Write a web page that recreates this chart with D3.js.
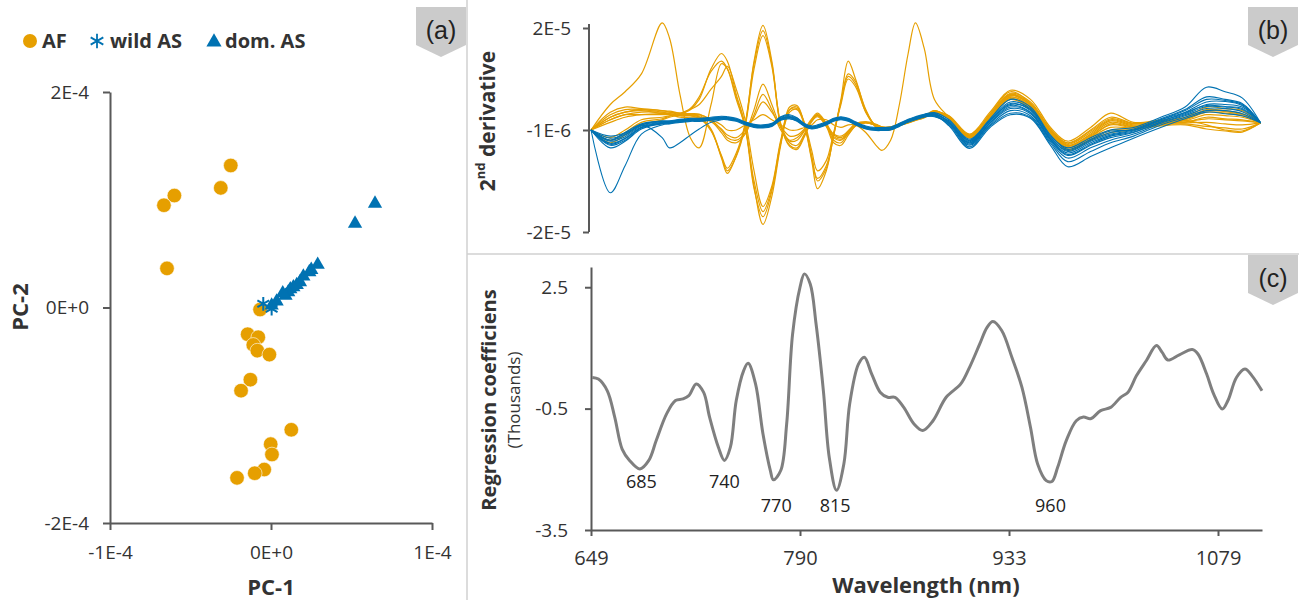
<!DOCTYPE html>
<html><head><meta charset="utf-8">
<script src="https://cdn.jsdelivr.net/npm/d3@7"></script>
<style>
body{margin:0;background:#fff;}
svg{display:block;font-family:"Open Sans",sans-serif;}
</style></head><body>
<svg id="chart" width="1299" height="600"></svg>
<script>
// ---------------- DATA ----------------
// Panel (a): PCA scores
const afPC1   = [-0.250e-4,-0.312e-4,-0.600e-4,-0.665e-4,-0.646e-4,-0.068e-4,-0.145e-4,-0.079e-4,-0.110e-4,-0.085e-4,-0.010e-4,-0.128e-4,-0.186e-4,0.126e-4,-0.002e-4,0.006e-4,-0.042e-4,-0.101e-4,-0.211e-4];
const afPC2   = [1.318e-4,1.110e-4,1.039e-4,0.949e-4,0.363e-4,-0.019e-4,-0.248e-4,-0.276e-4,-0.347e-4,-0.400e-4,-0.437e-4,-0.670e-4,-0.772e-4,-1.135e-4,-1.268e-4,-1.364e-4,-1.504e-4,-1.538e-4,-1.581e-4];
const wildPC1 = [-0.048e-4,0.004e-4];
const wildPC2 = [0.034e-4,-0.012e-4];
const domPC1  = [0.646e-4,0.522e-4,0.290e-4,0.250e-4,0.238e-4,0.201e-4,0.180e-4,0.160e-4,0.139e-4,0.120e-4,0.107e-4,0.090e-4,0.073e-4,0.035e-4,0.004e-4];
const domPC2  = [0.965e-4,0.779e-4,0.397e-4,0.350e-4,0.329e-4,0.288e-4,0.236e-4,0.210e-4,0.189e-4,0.170e-4,0.142e-4,0.110e-4,0.133e-4,0.056e-4,0.019e-4];
const legendLabels = ["AF","wild AS","dom. AS"];
const aXTicks = [-1e-4,0,1e-4], aXTickLabels = ["-1E-4","0E+0","1E-4"];
const aYTicks = [-2e-4,0,2e-4], aYTickLabels = ["-2E-4","0E+0","2E-4"];

// Panel (b): 2nd derivative spectra (values in units of 1E-6) on a wavelength grid (nm)
const derivWl = [649,662,672,683,697,702,709,716,722,730,737,741,747,753,759,765,771,777,783,788,793,798,802,808,813,818,823,828,835,842,846,852,858,864,869,875,882,892,906,920,934,948,962,974,990,1004,1020,1039,1056,1071,1084,1096,1109];
const afSpectra = [
 [-1,1,2,2.5,2.5,2.5,2,2,1.5,-1,-6.5,-9.5,-6,0,12.5,19.5,12.5,0,-4,-4.5,-2,1,2,0,-2,-2.5,-1.5,0,0.5,0,-0.5,-0.5,0,0.5,1,1.5,2.5, 1.8,-1.8,2.5,6.8,5.0,-0.5,-3.2,-0.5,2.3,0.5,1.0,1.5,3.5,3.2,2.8,0.4],
 [-1,0.5,1.5,2,2.2,2.2,1.8,1.8,1.3,-1.2,-6,-8.5,-5.5,0.3,12,18.5,12,0.3,-3.5,-4,-1.8,0.8,1.8,0.2,-1.8,-2.2,-1.2,0.2,0.6,0.1,-0.4,-0.4,0.1,0.6,1.1,1.6,2.7, 1.5,-2.0,2.0,6.2,4.5,-0.8,-3.5,-1.0,1.5,0.3,0.8,1.3,3.0,2.8,2.2,0.4],
 [-1,1.5,2.5,3,2.8,2.7,2.3,2.1,1.6,-0.8,-6.2,-9,-6.2,-0.3,11,17.5,11.5,-0.2,-4.2,-4.8,-2.3,0.6,1.6,-0.3,-2.3,-2.8,-1.8,-0.2,0.4,-0.1,-0.6,-0.6,-0.1,0.4,0.9,1.4,2.4, 1.6,-2.2,2.2,6.5,4.2,-1.0,-3.8,-1.5,1.0,0.0,0.6,1.0,2.5,2.3,1.8,0.4],
 [-1,-3.5,-2,0,1,1.5,2,3,5,11,14,12.5,6,0,-12,-19.5,-14,-4,3,3.5,0,-7,-12.5,-9,-2,5,12.5,9,3,-0.5,-1,-1,0,0.5,1,1.5,2.5, 1.4,-2.0,1.8,5.8,4.0,-1.2,-4.0,-2.0,0.5,-0.3,0.5,0.8,2.0,1.8,1.5,0.4],
 [-1,-3,-1.5,0.5,1.2,1.7,2.2,3.2,5.5,10.5,12.5,11,5,-0.5,-12.5,-18,-13,-3.5,3.5,3.8,0.2,-6,-11,-8.5,-2.2,4.5,10,8.5,2.8,-0.3,-0.8,-0.8,0.1,0.6,1.1,1.6,2.6, 1.7,-2.4,2.0,6.0,3.8,-1.3,-4.2,-2.2,0.0,-0.5,0.3,0.6,1.2,1.0,0.8,0.4],
 [-1,-2.5,-1,1,1.5,1.8,2.2,3,4,7,9.5,11.5,7,1,-9,-16,-12,-3,3,3.2,0.5,-5,-9,-7,-1.5,4,9,7.5,2.5,-0.2,-0.7,-0.7,0.2,0.7,1.2,1.7,2.8, 1.3,-2.3,1.5,5.5,3.5,-1.5,-4.5,-2.5,-0.5,-0.6,0.2,0.4,0.5,0.2,0.0,0.4],
 [-1,4,6.5,10,20,17,6,-2.5,-4.5,4,12,11,5.5,-0.5,-11,-17,-12.5,-3.5,2.5,3,0,-6.5,-10.5,-8,-2,4.5,9.5,8,2.5,-0.4,-0.9,-0.9,0,0.5,1,1.5,2.6, 1.5,-2.5,1.7,5.2,3.2,-1.6,-4.8,-2.8,-1.0,-0.8,0.0,0.2,-0.3,-0.6,-0.8,0.4],
 [-1,2,3,3,2.5,2.2,2,2,2,1,-1,-2.5,-3,-1.5,3,8,4,-0.5,-3,-2.5,-1,1,2,0,-3,-3.5,-1.5,0,0.5,0,-0.5,-0.5,0,0.5,1,1.5,2.5, 1.2,-2.6,1.4,5.0,3.0,-1.8,-5.0,-3.0,-1.5,-1.0,-0.2,0.0,-0.8,-1.2,-1.4,0.4],
 [-1,2.5,3.5,3.2,2.8,2.5,2.3,2.2,2.1,0.8,-1.5,-3,-3.5,-1.8,2,6,3,-1,-3.2,-3,-1.2,0.8,1.8,-0.3,-3.5,-4,-2,-0.2,0.4,-0.1,-0.6,-0.6,-0.1,0.4,0.9,1.4,2.8, 1.4,-2.1,1.9,6.0,4.2,-1.0,-3.6,-1.2,1.2,0.2,0.7,1.1,2.8,2.6,2.0,0.4],
 [-1,1.5,2.5,2.8,2.2,2,1.8,1.8,1.8,0.6,-0.8,-2,-2.5,-1,1.5,4.5,2.5,-0.3,-2.2,-2,-0.8,1.2,2.3,0.3,-2.5,-3,-1.2,0.2,0.6,0.1,-0.4,-0.4,0.1,0.6,1.1,1.6,2.3, 1.3,-2.4,1.6,5.4,3.6,-1.4,-4.4,-2.4,0.2,-0.4,0.4,0.5,1.5,1.2,1.0,0.4],
 [-1,1,2,2,2,2,1.5,1.5,1.5,1,0,-1,-1,0,1,2,1,0,-1,-1,-0.5,0,1,1,0,-0.5,0,0,-1.5,-4,-5,-3,4,14,20,15,5, 1.5,-2.2,1.8,5.7,3.9,-1.1,-4.1,-1.8,0.8,-0.2,0.5,0.9,0.0,-1.0,-1.2,0.4]
];
const asSpectra = [
 [-1,-13.3,-8,-1.8,0,0.3,0.7,0.9,1,1.2,1.4,1.3,1,0.3,-0.2,-0.3,0,1.2,1.5,1,0,-0.5,-0.3,0.3,1,1.3,1,0.3,-0.5,-0.8,-0.8,-0.7,0,0.8,1.3,1.8,2, -0.2,-4.6,-0.5,2.0,1.3,-4.0,-8.2,-6.2,-4.5,-2.6,-0.5,1.2,2.5,2.2,1.8,0.4],
 [-1,-3,-1.5,0,-2.5,-4.5,-3.5,-2,-0.8,0.5,1,1.2,1,0.3,-0.2,-0.3,0,1.2,1.5,1,0,-0.5,-0.3,0.3,1,1.3,1,0.3,-0.5,-0.8,-0.8,-0.7,0,0.8,1.3,1.8,2, 0.8,-3.0,1.0,4.5,3.2,-2.2,-4.5,-2.5,-1.0,-0.5,1.5,3.5,7.4,6.5,5.3,0.4],
 [-1,-2.2,-1.6,0,0.8,0.8,1.1,1.3,1.3,1.5,1.7,1.6,1.3,0.6,0.1,0,0.3,1.5,1.8,1.3,0.3,-0.2,0,0.6,1.3,1.6,1.3,0.6,-0.2,-0.5,-0.5,-0.4,0.3,1.1,1.6,2.1,2.4, 1.0,-2.8,1.2,5.0,3.5,-2.0,-4.8,-2.8,-1.2,-1.0,1.0,2.5,4.5,4.6,3.8,0.4],
 [-1,-4.5,-3.2,-0.8,0.2,0.2,0.5,0.7,0.7,0.9,1.1,1,0.7,0,-0.5,-0.6,-0.3,0.9,1.2,0.7,-0.3,-0.8,-0.6,0,0.7,1,0.7,0,-0.8,-1.1,-1.1,-1,-0.3,0.5,1,1.5,1.7, 0.0,-4.3,-0.2,2.3,1.5,-3.6,-7.2,-5.2,-3.5,-2.2,0.0,1.5,2.8,2.8,2.2,0.4],
 [-1,-3,-2,0,0.6,0.7,1,1.2,1.2,1.3,1.5,1.4,1.1,0.5,0,-0.2,0.2,1.6,2,1.4,0.2,-0.4,-0.2,0.4,1.2,1.5,1.2,0.4,-0.4,-0.7,-0.7,-0.6,0.2,1,1.5,2,2.2, 0.6,-3.3,0.8,4.2,2.8,-2.6,-5.0,-3.0,-1.5,-0.8,1.2,3.0,5.5,5.0,4.2,0.4],
 [-1,-4,-3,-0.5,0.3,0.4,0.6,0.8,0.8,1,1.2,1.1,0.8,0.2,-0.4,-0.5,-0.2,1,1.2,0.8,-0.2,-0.7,-0.5,0.1,0.8,1.1,0.8,0.1,-0.7,-1,-1,-0.9,-0.2,0.6,1.1,1.6,1.8, 0.2,-4.0,0.0,2.8,1.8,-3.3,-6.5,-4.5,-3.0,-1.8,0.3,1.8,3.2,3.2,2.6,0.4],
 [-1,-2.6,-1.8,0.2,0.7,0.6,0.9,1.1,1.1,1.3,1.5,1.4,1.1,0.4,-0.1,-0.2,0.1,1.3,1.6,1.1,0.1,-0.4,-0.2,0.4,1.1,1.4,1.1,0.4,-0.4,-0.7,-0.7,-0.6,0.1,0.9,1.4,1.9,2.1, 0.6,-3.1,0.9,4.0,3.0,-2.4,-5.2,-3.2,-1.8,-1.0,1.0,2.8,5.0,4.8,4.0,0.4],
 [-1,-3.8,-2.7,-0.6,0.3,0.4,0.7,0.9,0.9,1.1,1.3,1.2,0.9,0.2,-0.3,-0.4,-0.1,1.1,1.4,0.9,-0.1,-0.6,-0.4,0.2,0.9,1.2,0.9,0.2,-0.6,-0.9,-0.9,-0.8,-0.1,0.7,1.2,1.7,1.6, 0.4,-3.8,0.3,3.2,2.2,-3.0,-6.0,-4.0,-2.5,-1.5,0.5,2.0,3.6,3.5,3.0,0.4],
 [-1,-3.2,-2.3,-0.2,0.5,0.6,0.9,1.1,1.1,1.3,1.5,1.4,1.1,0.4,-0.1,-0.2,0.1,1.3,1.6,1.1,0.1,-0.4,-0.2,0.4,1.1,1.4,1.1,0.4,-0.4,-0.7,-0.7,-0.6,0.1,0.9,1.4,1.9,2.3, 0.5,-3.5,0.5,3.8,2.5,-2.8,-5.5,-3.5,-2.0,-1.2,0.8,2.2,4.0,4.0,3.5,0.4],
 [-1,-3.6,-2.6,-0.4,0.4,0.5,0.8,1,1,1.2,1.4,1.3,1,0.3,-0.2,-0.3,0,1.2,1.5,1,0,-0.5,-0.3,0.3,1,1.3,1,0.3,-0.5,-0.8,-0.8,-0.7,0,0.8,1.3,1.8,1.9, 0.3,-3.6,0.4,3.5,2.4,-2.9,-5.8,-3.8,-2.2,-1.4,0.6,2.4,3.8,3.6,3.2,0.4]
];
const bYTicks = [-21,-1,19], bYTickLabels = ["-2E-5","-1E-6","2E-5"];

// Panel (c): regression coefficients (thousands)
const coefWl  = [650,654,660,665,670,675,682,688,693,700,706,711,715,720,725,729,735,739,743,747,752,755,760,765,770,772,777,781,785,790,793,797,801,806,810,815,820,824,830,834,839,845,850,855,861,868,874,881,890,900,906,913,918,922,928,935,942,948,953,959,963,967,973,980,985,990,997,1004,1011,1016,1022,1029,1036,1040,1044,1052,1061,1065,1071,1076,1082,1086,1092,1098,1103,1110];
const coefVal = [0.27,0.23,-0.06,-0.71,-1.50,-1.78,-1.99,-1.78,-1.29,-0.63,-0.30,-0.26,-0.18,0.11,-0.10,-0.71,-1.46,-1.78,-1.46,-0.30,0.44,0.62,0.11,-1.12,-2.03,-2.26,-2.03,-0.88,1.34,2.50,2.83,2.58,1.59,-0.06,-1.70,-2.52,-1.87,-0.38,0.60,0.77,0.36,-0.10,-0.22,-0.22,-0.47,-0.88,-1.04,-0.80,-0.22,0.11,0.52,1.10,1.51,1.65,1.43,0.77,0.03,-0.96,-1.87,-2.28,-2.30,-1.95,-1.29,-0.80,-0.71,-0.75,-0.55,-0.47,-0.22,-0.10,0.31,0.69,1.06,0.89,0.70,0.83,0.96,0.85,0.36,-0.14,-0.51,-0.30,0.27,0.48,0.31,-0.06];
const cXTicks = [649,790,933,1079];
const cYTicks = [-3.5,-0.5,2.5], cYTickLabels = ["-3.5","-0.5","2.5"];
const annLabels = ["685","740","770","815","960"];
const annWl     = [683,739,774,814,962];
const annVal    = [-2.30,-2.30,-2.88,-2.88,-2.88];

// ---------------- DRAWING ----------------
const ORANGE = "#E69F00", BLUE = "#0072B2", AXIS = "#595959", TXT = "#333333";
const svg = d3.select("#chart");

function styleAxis(g, fs) {
  g.attr("font-family", "'Open Sans', sans-serif").attr("font-size", fs);
  g.select(".domain").attr("stroke", AXIS).attr("stroke-width", 2);
  g.selectAll(".tick line").attr("stroke", AXIS).attr("stroke-width", 2);
  g.selectAll(".tick text").attr("fill", TXT);
}

// separators
svg.append("line").attr("x1",467).attr("x2",467).attr("y1",0).attr("y2",600).attr("stroke","#d0d0d0").attr("stroke-width",1.5);
svg.append("line").attr("x1",467).attr("x2",1299).attr("y1",254).attr("y2",254).attr("stroke","#d0d0d0").attr("stroke-width",1.5);

// panel tags
function tag(x, y, label) {
  const w = 50, h = 38, p = 12;
  svg.append("path").attr("d", `M${x},${y}h${w}v${h}l${-w/2},${p}l${-w/2},${-p}z`).attr("fill", "#cbcbcb");
  svg.append("text").attr("x", x + w/2).attr("y", y + 23).attr("text-anchor","middle")
    .attr("dominant-baseline","central").attr("font-family","'Liberation Sans', Arial, sans-serif")
    .attr("font-size", 25).attr("fill", "#222").text(label);
}
tag(416, 7, "(a)");
tag(1248, 7, "(b)");
tag(1248, 255, "(c)");

// ---- Panel (a)
const xA = d3.scaleLinear().domain([-1e-4, 1e-4]).range([110, 432]);
const yA = d3.scaleLinear().domain([-2e-4, 2e-4]).range([523, 92]);

svg.append("g").attr("transform","translate(110,0)")
  .call(d3.axisLeft(yA).tickValues(aYTicks).tickFormat((d,i)=>aYTickLabels[i]).tickSizeInner(7).tickSizeOuter(0).tickPadding(14))
  .call(g => styleAxis(g, 19));
svg.append("g").attr("transform","translate(0,523)")
  .call(d3.axisBottom(xA).tickValues(aXTicks).tickFormat((d,i)=>aXTickLabels[i]).tickSizeInner(7).tickSizeOuter(0).tickPadding(16))
  .call(g => styleAxis(g, 19));

svg.append("text").attr("x",271).attr("y",586).attr("text-anchor","middle").attr("dominant-baseline","central")
  .attr("font-size",22).attr("font-weight","bold").attr("fill",TXT).text("PC-1");
svg.append("text").attr("transform","translate(19,307) rotate(-90)").attr("text-anchor","middle").attr("dominant-baseline","central")
  .attr("font-size",22).attr("font-weight","bold").attr("fill",TXT).text("PC-2");

const af = afPC1.map((v,i)=>[v, afPC2[i]]);
const wild = wildPC1.map((v,i)=>[v, wildPC2[i]]);
const dom = domPC1.map((v,i)=>[v, domPC2[i]]);

svg.append("g").selectAll("circle").data(af).join("circle")
  .attr("cx", d=>xA(d[0])).attr("cy", d=>yA(d[1])).attr("r", 7.3)
  .attr("fill", ORANGE).attr("stroke","#fff").attr("stroke-width",0.6);
const star = d3.symbol(d3.symbolAsterisk, 130);
const tri = d3.symbol(d3.symbolTriangle, 88);
svg.append("g").selectAll("path").data(dom).join("path")
  .attr("transform", d=>`translate(${xA(d[0])},${yA(d[1])})`).attr("d", tri).attr("fill", BLUE);
svg.append("g").selectAll("path").data(wild).join("path")
  .attr("transform", d=>`translate(${xA(d[0])},${yA(d[1])})`).attr("d", star)
  .attr("fill","none").attr("stroke", BLUE).attr("stroke-width", 2);

// legend
const lg = svg.append("g");
lg.append("circle").attr("cx",30).attr("cy",41).attr("r",7).attr("fill",ORANGE);
lg.append("path").attr("transform","translate(97,41)").attr("d", d3.symbol(d3.symbolAsterisk,150)).attr("fill","none").attr("stroke",BLUE).attr("stroke-width",1.8);
lg.append("path").attr("transform","translate(214,42)").attr("d", d3.symbol(d3.symbolTriangle,100)).attr("fill",BLUE);
const lgX = [42, 110, 225];
legendLabels.forEach((t,i)=>{
  lg.append("text").attr("x", lgX[i]).attr("y", 48).attr("font-size",20).attr("font-weight","bold").attr("fill",TXT).text(t);
});

// ---- shared wavelength scale (category-like spacing of original axis)
const xW = d3.scaleLinear().domain([649, 790, 933, 1079, 1110]).range([591, 800, 1009, 1218, 1262]);

// ---- Panel (b)
const yB = d3.scaleLinear().domain([-21, 19]).range([232, 28]);
const lineB = d3.line().x((d,i)=>xW(derivWl[i])).y(d=>yB(d)).curve(d3.curveCatmullRom.alpha(0.5));
const gB = svg.append("g");
gB.selectAll("path.af").data(afSpectra).join("path").attr("class","af")
  .attr("d", lineB).attr("fill","none").attr("stroke",ORANGE).attr("stroke-width",1.2);
gB.selectAll("path.as").data(asSpectra).join("path").attr("class","as")
  .attr("d", lineB).attr("fill","none").attr("stroke",BLUE).attr("stroke-width",1.1);

svg.append("g").attr("transform","translate(589,0)")
  .call(d3.axisLeft(yB).tickValues(bYTicks).tickFormat((d,i)=>bYTickLabels[i]).tickSizeInner(6).tickSizeOuter(0).tickPadding(12))
  .call(g => styleAxis(g, 19))
  .call(g => g.select(".domain").attr("d", `M0,${yB(19)-4}V${yB(-21)}`));

const tB = svg.append("text").attr("transform","translate(487,121) rotate(-90)").attr("text-anchor","middle")
  .attr("dominant-baseline","central").attr("font-size",21).attr("font-weight","bold").attr("fill",TXT);
tB.append("tspan").text("2");
tB.append("tspan").attr("font-size",13).attr("dy",-7).text("nd");
tB.append("tspan").attr("dy",7).text(" derivative");

// ---- Panel (c)
const yC = d3.scaleLinear().domain([-3.5, 3.0]).range([530, 267]);
svg.append("path").datum(coefVal)
  .attr("d", d3.line().x((d,i)=>xW(coefWl[i])).y(d=>yC(d)).curve(d3.curveCatmullRom.alpha(0.5)))
  .attr("fill","none").attr("stroke","#7f7f7f").attr("stroke-width",3).attr("stroke-linejoin","round");

svg.append("g").attr("transform","translate(591,0)")
  .call(d3.axisLeft(yC).tickValues(cYTicks).tickFormat((d,i)=>cYTickLabels[i]).tickSizeInner(6).tickSizeOuter(0).tickPadding(17))
  .call(g => styleAxis(g, 19));
svg.append("g").attr("transform","translate(0,530)")
  .call(d3.axisBottom(xW).tickValues(cXTicks).tickFormat(d3.format("d")).tickSizeInner(6).tickSizeOuter(0).tickPadding(15))
  .call(g => styleAxis(g, 20));

svg.append("g").selectAll("text").data(annLabels).join("text")
  .attr("x",(d,i)=>xW(annWl[i])).attr("y",(d,i)=>yC(annVal[i])).attr("text-anchor","middle").attr("dominant-baseline","central")
  .attr("font-size",18).attr("fill","#222").text(d=>d);

svg.append("text").attr("transform","translate(488,400) rotate(-90)").attr("text-anchor","middle").attr("dominant-baseline","central")
  .attr("font-size",20).attr("font-weight","bold").attr("fill",TXT).text("Regression coefficiens");
svg.append("text").attr("transform","translate(513,400) rotate(-90)").attr("text-anchor","middle").attr("dominant-baseline","central")
  .attr("font-size",17).attr("fill",TXT).text("(Thousands)");
svg.append("text").attr("x",926).attr("y",584).attr("text-anchor","middle").attr("dominant-baseline","central")
  .attr("font-size",22).attr("font-weight","bold").attr("fill",TXT).text("Wavelength (nm)");
</script>
</body></html>
